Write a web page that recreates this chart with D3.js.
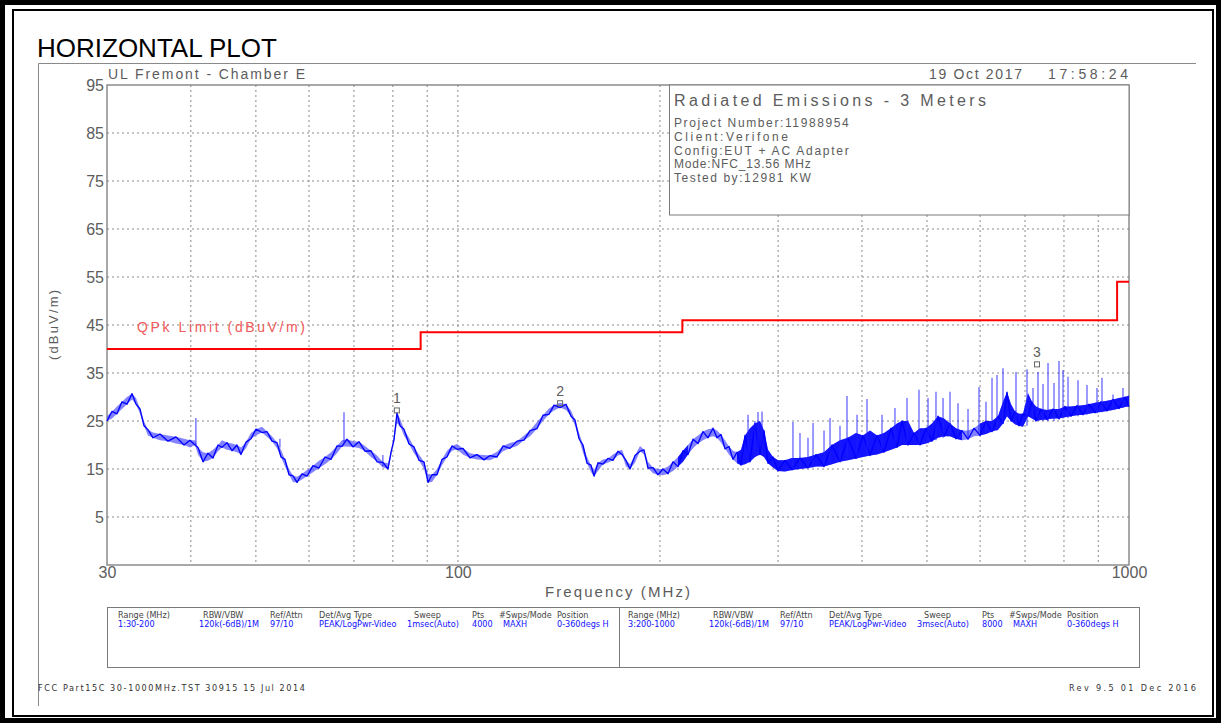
<!DOCTYPE html>
<html>
<head>
<meta charset="utf-8">
<script src="https://cdn.jsdelivr.net/npm/d3@7"></script>
<style>
  body { margin: 0; background: #fff; }
  svg { display: block; }
  text { font-family: "Liberation Sans", Arial, sans-serif; }
  .plotter { fill: #5c5c5c; }
  .grid line { stroke: #8a8a8a; stroke-dasharray: 2,3; }
  .tbl { font-family: "Liberation Sans Narrow", "DejaVu Sans Condensed", "Liberation Sans", sans-serif; font-size: 9px; }
</style>
</head>
<body>
<script>
// ---- data ----
const traceMHz = [30.00, 30.52, 31.05, 31.58, 32.13, 32.69, 33.14, 33.60, 34.06, 34.53, 35.13, 35.98, 36.98, 38.01, 39.07, 39.88, 40.57, 40.99, 41.70, 42.42,
  43.16, 43.91, 44.51, 45.28, 46.07, 46.86, 47.51, 48.33, 49.17, 50.02, 51.06, 51.94, 52.84, 53.76, 54.50, 55.25, 56.02, 56.79, 57.58, 58.57,
  59.58, 60.82, 62.09, 63.38, 64.70, 66.04, 67.19, 68.35, 69.77, 71.22, 72.70, 74.22, 75.76, 77.34, 78.68, 79.49, 80.31, 81.14, 81.98, 83.11,
  84.55, 86.02, 87.50, 89.02, 90.25, 91.49, 93.08, 94.69, 96.33, 97.99, 99.69, 101.76, 104.24, 106.77, 109.37, 111.64, 114.36, 116.73, 119.57, 122.48,
  125.46, 128.07, 131.18, 133.91, 136.69, 139.06, 141.95, 144.90, 147.41, 149.45, 151.51, 153.61, 155.73, 157.88, 159.52, 161.72, 164.52, 167.36, 170.26, 173.21,
  175.60, 178.03, 180.49, 183.61, 186.79, 189.37, 191.98, 195.31, 198.68, 202.12, 205.62, 209.18, 212.80, 216.48, 220.22, 224.03, 227.91, 231.85, 235.87, 239.95,
  243.26, 246.63, 250.03, 253.49, 256.99, 260.54, 264.14, 267.79, 272.43, 277.14, 281.93, 285.83, 289.78, 294.80, 299.90, 307.19, 314.65, 323.41, 332.41, 341.66,
  351.17, 360.94, 370.98, 381.31, 391.92, 401.45, 411.20, 421.20, 431.44, 441.93, 451.12, 458.93, 468.48, 478.22, 488.17, 498.33, 508.69, 519.27, 530.07, 541.10,
  552.35, 563.84, 575.57, 587.54, 599.76, 612.23, 624.97, 637.97, 649.01, 657.98, 667.07, 676.29, 685.64, 695.11, 707.14, 716.91, 726.82, 739.39, 754.78, 770.47,
  786.50, 802.85, 819.55, 836.60, 853.99, 871.75, 889.89, 908.40, 927.29, 946.59, 966.27, 986.37, 1000];
const traceLo = [25.0, 25.5, 26.5, 27.5, 28.5, 29.5, 28.5, 26.5, 24.0, 22.0, 21.5, 21.0, 20.8, 20.3, 20.0, 19.5, 20.0, 18.0, 16.5, 16.7,
  17.3, 18.7, 19.5, 19.0, 18.8, 18.5, 18.0, 19.3, 21.3, 22.0, 22.6, 21.7, 20.8, 19.3, 17.5, 15.5, 13.8, 12.3, 12.2, 12.8,
  13.5, 14.3, 15.2, 16.0, 17.0, 18.3, 19.7, 19.7, 19.6, 19.4, 18.7, 17.5, 16.5, 15.3, 15.0, 17.5, 21.0, 24.5, 24.0, 22.0,
  20.2, 18.3, 16.8, 15.0, 12.2, 12.3, 13.8, 15.8, 17.5, 18.8, 19.1, 18.0, 17.3, 17.0, 16.9, 16.8, 17.5, 18.7, 19.3, 19.8,
  21.0, 21.8, 23.4, 25.0, 26.4, 27.2, 27.8, 27.3, 26.0, 24.0, 21.3, 18.4, 16.2, 14.4, 13.5, 14.6, 16.0, 16.3, 16.8, 17.8,
  18.0, 15.5, 15.0, 16.3, 18.7, 18.0, 15.2, 14.1, 13.8, 13.7, 14.0, 14.6, 15.5, 16.5, 18.0, 19.3, 20.3, 21.0, 21.5, 21.8,
  21.5, 20.5, 19.2, 18.0, 17.0, 16.2, 15.8, 16.0, 16.5, 17.5, 18.0, 17.5, 16.2, 15.3, 14.6, 14.5, 14.8, 15.0, 15.2, 15.5,
  15.5, 16.0, 16.5, 16.8, 17.2, 17.5, 17.8, 18.0, 18.5, 19.0, 19.5, 20.0, 20.0, 20.0, 20.0, 20.3, 20.8, 21.5, 21.8, 21.8,
  21.3, 21.0, 21.2, 21.8, 22.0, 22.3, 22.8, 23.2, 24.5, 26.0, 25.0, 24.3, 24.0, 23.8, 26.0, 25.5, 25.0, 25.2, 25.3, 25.5,
  25.5, 25.8, 26.0, 26.2, 26.3, 26.5, 26.7, 26.9, 27.1, 27.3, 27.6, 27.9, 28.0];
const traceHi = [26.0, 27.0, 28.0, 29.0, 30.0, 30.7, 29.8, 27.5, 25.0, 23.2, 22.6, 22.3, 22.0, 21.7, 21.3, 21.0, 21.0, 19.5, 18.5, 18.3,
  19.0, 20.0, 21.0, 20.5, 20.3, 20.0, 19.5, 20.6, 22.5, 23.3, 23.8, 22.8, 21.8, 20.5, 19.0, 17.0, 15.0, 13.6, 13.4, 14.0,
  14.8, 15.7, 16.7, 17.5, 18.5, 19.8, 21.0, 21.2, 20.8, 20.7, 19.8, 18.8, 17.8, 16.4, 16.2, 18.5, 22.3, 26.7, 25.5, 23.3,
  21.5, 19.6, 18.0, 16.5, 14.0, 13.8, 15.0, 17.0, 18.8, 19.8, 20.2, 19.3, 18.3, 18.0, 17.9, 17.8, 18.6, 19.8, 20.4, 20.8,
  22.0, 23.0, 24.8, 26.2, 27.6, 28.3, 28.8, 28.5, 27.2, 25.2, 22.6, 20.0, 17.5, 15.8, 14.8, 16.3, 17.0, 17.2, 18.0, 18.7,
  19.0, 16.8, 16.0, 17.8, 19.8, 19.0, 16.5, 15.3, 15.0, 15.0, 15.5, 16.5, 17.5, 18.8, 20.0, 21.2, 22.0, 22.8, 23.3, 23.5,
  23.0, 22.2, 21.0, 19.7, 18.8, 18.5, 19.0, 22.0, 23.5, 24.5, 25.0, 23.0, 19.0, 17.5, 16.8, 16.8, 17.3, 17.3, 17.5, 18.0,
  18.5, 20.0, 21.0, 21.5, 22.5, 22.0, 23.0, 22.0, 22.5, 23.5, 24.5, 25.0, 25.0, 22.5, 23.5, 23.5, 24.5, 26.0, 25.5, 24.5,
  23.5, 23.0, 23.0, 23.5, 24.5, 25.0, 25.0, 26.0, 29.0, 31.0, 28.5, 27.0, 26.5, 26.5, 30.8, 29.0, 28.0, 27.5, 27.3, 27.5,
  27.5, 28.0, 28.0, 28.2, 28.3, 28.5, 28.8, 29.0, 29.2, 29.5, 29.8, 30.0, 30.3];

const spikeMHz = [40.7, 54.3, 67.65, 77.3, 270.6, 277.1, 280.0, 283.9, 315.7, 323.4, 332.4, 338.2, 351.2, 358.5, 371.0, 380.0, 393.3, 407.0, 428.5, 448.0,
  466.9, 486.5, 501.8, 515.7, 528.3, 541.1, 556.2, 575.6, 597.7, 612.2, 625.0, 635.8, 649.0, 678.6, 704.7, 719.4, 731.8, 744.5, 757.4, 773.1,
  786.5, 797.4, 811.2, 839.5, 865.8, 896.0, 911.5, 946.6, 979.6];
const spikeBase = [20.0, 19.5, 20.5, 15.5, 16.5, 17.5, 18.0, 18.0, 15.0, 15.0, 15.2, 15.3, 15.5, 16.0, 16.5, 17.0, 17.2, 17.8, 19.0, 20.0,
  20.0, 20.0, 20.3, 21.0, 21.5, 21.8, 21.3, 21.2, 22.0, 22.3, 22.8, 23.0, 24.5, 24.3, 24.0, 25.5, 25.0, 25.0, 25.0, 25.0,
  25.3, 25.5, 25.6, 26.0, 26.3, 26.6, 26.8, 27.3, 27.7];
const spikeTop = [25.6, 21.3, 26.8, 17.9, 26.3, 25.0, 26.9, 27.0, 24.8, 22.5, 21.5, 24.6, 23.0, 25.6, 24.0, 30.2, 26.3, 29.6, 26.3, 27.7,
  29.8, 31.5, 29.8, 31.1, 29.8, 31.1, 28.7, 27.5, 32.1, 29.0, 34.0, 34.6, 36.0, 35.2, 35.8, 31.9, 35.2, 32.7, 37.1, 32.9,
  37.5, 35.6, 34.2, 33.5, 32.5, 31.9, 34.0, 30.5, 31.9];

const limitMHz = [30, 88, 88, 216, 216, 960, 960, 1000];
const limitDb = [40, 40, 43.5, 43.5, 46, 46, 54, 54];

const markerIds = ['1', '2', '3'];
const markerMHz = [81.1, 142.0, 729.3];
const markerDb = [27.2, 28.7, 36.8];

const yTicks = [95, 85, 75, 65, 55, 45, 35, 25, 15, 5];
const xTickLabels = [30, 100, 1000];
const gridMHz = [40, 50, 60, 70, 80, 90, 100, 200, 300, 400, 500, 600, 700, 800, 900];

const infoTitle = 'Radiated Emissions - 3 Meters';
const infoLines = ['Project Number:11988954', 'Client:Verifone', 'Config:EUT + AC Adapter', 'Mode:NFC_13.56 MHz', 'Tested by:12981 KW'];

const tableHeaders = ['Range (MHz)', 'RBW/VBW', 'Ref/Attn', 'Det/Avg Type', 'Sweep', 'Pts', '#Swps/Mode', 'Position'];
const range1Values = ['1:30-200', '120k(-6dB)/1M', '97/10', 'PEAK/LogPwr-Video', '1msec(Auto)', '4000', 'MAXH', '0-360degs H'];
const range2Values = ['3:200-1000', '120k(-6dB)/1M', '97/10', 'PEAK/LogPwr-Video', '3msec(Auto)', '8000', 'MAXH', '0-360degs H'];

// ---- layout ----
const W = 1221, H = 723;
const plot = {left: 107, right: 1129, top: 85, bottom: 565};

const x = d3.scaleLog().domain([30, 1000]).range([plot.left, plot.right]);
const y = d3.scaleLinear().domain([-5, 95]).range([plot.bottom, plot.top]);

const svg = d3.select('body').append('svg')
  .attr('width', W)
  .attr('height', H);

// page borders
svg.append('rect')
  .attr('x', 2.5).attr('y', 2.5).attr('width', W - 5).attr('height', H - 5)
  .attr('fill', 'none').attr('stroke', '#000').attr('stroke-width', 5);
svg.append('rect')
  .attr('x', 13).attr('y', 10).attr('width', 1200).attr('height', 706)
  .attr('fill', 'none').attr('stroke', '#000').attr('stroke-width', 2);

svg.append('text')
  .attr('x', 37).attr('y', 57)
  .attr('font-size', 26)
  .attr('fill', '#000')
  .text('HORIZONTAL PLOT');

// outer gray frame (top and left)
svg.append('path')
  .attr('d', 'M38.5,706V63.5H1196')
  .attr('fill', 'none').attr('stroke', '#8a8a8a');

// grid
const grid = svg.append('g').attr('class', 'grid');
grid.selectAll('.v').data(gridMHz).enter().append('line')
  .attr('x1', d => x(d)).attr('x2', d => x(d))
  .attr('y1', plot.top).attr('y2', plot.bottom);
grid.selectAll('.h').data(yTicks.filter(d => d < 95)).enter().append('line')
  .attr('x1', plot.left).attr('x2', plot.right)
  .attr('y1', d => y(d)).attr('y2', d => y(d));

// plot frame
svg.append('rect')
  .attr('x', plot.left).attr('y', plot.top)
  .attr('width', plot.right - plot.left).attr('height', plot.bottom - plot.top)
  .attr('fill', 'none').attr('stroke', '#7a7a7a').attr('stroke-width', 1.3);

// info box
svg.append('rect')
  .attr('x', 669.5).attr('y', plot.top).attr('width', plot.right - 669.5).attr('height', 130)
  .attr('fill', '#fff').attr('stroke', '#7a7a7a');
svg.append('text').attr('class', 'plotter')
  .attr('x', 674).attr('y', 106).attr('font-size', 16)
  .attr('textLength', 312).attr('lengthAdjust', 'spacing')
  .text(infoTitle);
svg.selectAll('.info').data(infoLines).enter().append('text')
  .attr('class', 'plotter')
  .attr('x', 674).attr('y', (d, i) => 127 + i * 13.8)
  .attr('font-size', 12)
  .attr('textLength', d => d.length * 7.6).attr('lengthAdjust', 'spacing')
  .text(d => d);

// axes labels
const yAxis = svg.append('g')
  .attr('transform', 'translate(' + plot.left + ',0)')
  .call(d3.axisLeft(y).tickValues(yTicks).tickSize(0).tickPadding(3));
yAxis.select('.domain').remove();
yAxis.selectAll('text').attr('font-size', 16).attr('fill', '#5c5c5c').attr('font-family', '"Liberation Sans", Arial, sans-serif');

const xAxis = svg.append('g')
  .attr('transform', 'translate(0,' + plot.bottom + ')')
  .call(d3.axisBottom(x).tickValues(xTickLabels).tickFormat(d3.format('d')).tickSize(0).tickPadding(2));
xAxis.select('.domain').remove();
xAxis.selectAll('text').attr('font-size', 16).attr('fill', '#5c5c5c').attr('font-family', '"Liberation Sans", Arial, sans-serif');

svg.append('text').attr('class', 'plotter')
  .attr('x', 545).attr('y', 597).attr('font-size', 15)
  .attr('textLength', 145).attr('lengthAdjust', 'spacing')
  .text('Frequency (MHz)');

svg.append('text').attr('class', 'plotter')
  .attr('transform', 'translate(58,325)rotate(-90)')
  .attr('text-anchor', 'middle').attr('font-size', 13)
  .attr('textLength', 70).attr('lengthAdjust', 'spacing')
  .text('(dBuV/m)');

svg.append('text').attr('class', 'plotter')
  .attr('x', 108).attr('y', 79).attr('font-size', 14)
  .attr('textLength', 197).attr('lengthAdjust', 'spacing')
  .text('UL Fremont - Chamber E');
svg.append('text').attr('class', 'plotter')
  .attr('x', 929).attr('y', 79).attr('font-size', 14)
  .attr('textLength', 93).attr('lengthAdjust', 'spacing')
  .text('19 Oct 2017');
svg.append('text').attr('class', 'plotter')
  .attr('x', 1048).attr('y', 79).attr('font-size', 14)
  .attr('textLength', 80).attr('lengthAdjust', 'spacing')
  .text('17:58:24');

// limit line
const limit = limitMHz.map((f, i) => [f, limitDb[i]]);
svg.append('path')
  .datum(limit)
  .attr('d', d3.line().x(d => x(d[0])).y(d => y(d[1])))
  .attr('fill', 'none').attr('stroke', '#ff0000').attr('stroke-width', 2);
svg.append('text')
  .attr('x', 137).attr('y', 332).attr('font-size', 14)
  .attr('fill', '#f05a5a')
  .attr('textLength', 168).attr('lengthAdjust', 'spacing')
  .text('QPk Limit (dBuV/m)');

// measured trace: envelope band plus a jagged line bouncing between its edges
const trace = traceMHz.map((f, i) => ({f: f, lo: traceLo[i], hi: traceHi[i]}));
const band = d3.area().x(d => x(d.f)).y0(d => y(d.lo)).y1(d => y(d.hi));
svg.append('path')
  .datum(trace)
  .attr('d', band)
  .attr('fill', '#5a5aff').attr('fill-opacity', 0.75);
// where the sweep is noisy the band is drawn almost solid
svg.append('path')
  .datum(trace)
  .attr('d', band.defined(d => d.hi - d.lo >= 2))
  .attr('fill', '#0000ff').attr('fill-opacity', 0.85);
svg.append('path')
  .datum(trace)
  .attr('d', d3.line().x(d => x(d.f)).y((d, i) => y(i % 2 ? d.hi : d.lo)))
  .attr('fill', 'none')
  .attr('stroke', '#0000ff').attr('stroke-width', 1.3).attr('stroke-linejoin', 'round');

const spikes = spikeMHz.map((f, i) => ({f: f, base: spikeBase[i], top: spikeTop[i]}));
svg.selectAll('.spike').data(spikes).enter().append('line')
  .attr('x1', d => x(d.f)).attr('x2', d => x(d.f))
  .attr('y1', d => y(d.base)).attr('y2', d => y(d.top))
  .attr('stroke', '#2020ff').attr('stroke-opacity', 0.75).attr('stroke-width', 1.2);

// markers
const markers = markerIds.map((id, i) => ({id: id, f: markerMHz[i], db: markerDb[i]}));
svg.selectAll('.mk').data(markers).enter().append('rect')
  .attr('x', d => x(d.f) - 2.5).attr('y', d => y(d.db) - 2.5)
  .attr('width', 5).attr('height', 5)
  .attr('fill', 'none').attr('stroke', '#666');
svg.selectAll('.mklab').data(markers).enter().append('text')
  .attr('class', 'plotter')
  .attr('x', d => x(d.f)).attr('y', d => y(d.db) - 7)
  .attr('text-anchor', 'middle').attr('font-size', 14)
  .text(d => d.id);

// settings table
svg.append('rect')
  .attr('x', 107.5).attr('y', 607.5).attr('width', 1032).attr('height', 60)
  .attr('fill', 'none').attr('stroke', '#7a7a7a');
svg.append('line')
  .attr('x1', 619.5).attr('x2', 619.5).attr('y1', 607.5).attr('y2', 667.5)
  .attr('stroke', '#7a7a7a');

const headerOffsets = [0, 85, 152, 201, 296, 354, 381, 439];
const valueOffsets = [0, 81, 152, 201, 289, 354, 385, 439];
[[118, range1Values], [628, range2Values]].forEach(function(p) {
  svg.selectAll(null).data(tableHeaders).enter().append('text')
    .attr('class', 'tbl')
    .attr('x', (d, i) => p[0] + headerOffsets[i]).attr('y', 618)
    .attr('fill', '#444')
    .text(d => d);
  svg.selectAll(null).data(p[1]).enter().append('text')
    .attr('class', 'tbl')
    .attr('x', (d, i) => p[0] + valueOffsets[i]).attr('y', 627)
    .attr('fill', '#1010ff')
    .text(d => d);
});

// footer
svg.append('text').attr('class', 'tbl')
  .attr('x', 38).attr('y', 691).attr('fill', '#333')
  .attr('textLength', 267).attr('lengthAdjust', 'spacing')
  .text('FCC Part15C 30-1000MHz.TST 30915 15 Jul 2014');
svg.append('text').attr('class', 'tbl')
  .attr('x', 1069).attr('y', 691).attr('fill', '#333')
  .attr('textLength', 127).attr('lengthAdjust', 'spacing')
  .text('Rev 9.5 01 Dec 2016');
</script>
</body>
</html>
